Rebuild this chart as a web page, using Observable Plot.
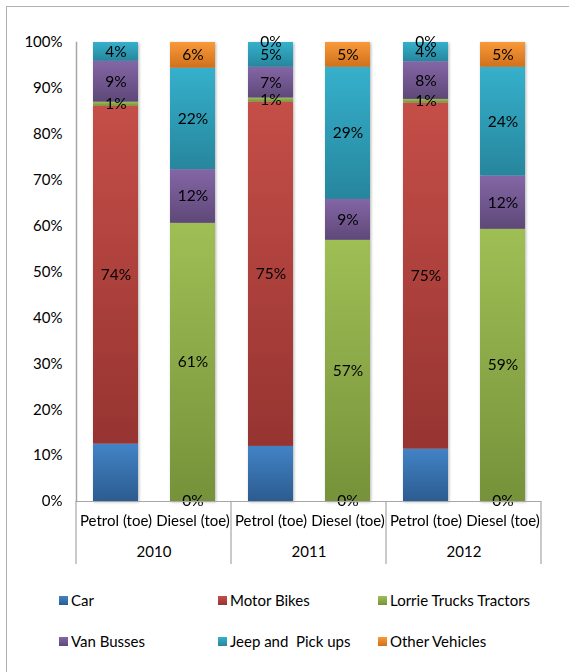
<!DOCTYPE html>
<html><head><meta charset="utf-8">
<script src="https://cdn.jsdelivr.net/npm/d3@7"></script>
<script src="https://cdn.jsdelivr.net/npm/@observablehq/plot@0.6"></script>
<style>
html,body{margin:0;padding:0;background:#fff;overflow:hidden;width:569px;height:672px;}
body{position:relative;font-family:Lato,"Open Sans",sans-serif;}
#frame{position:absolute;left:6px;top:6px;width:640px;height:720px;border:1.5px solid #b0b0b0;box-sizing:border-box;}
#chart{position:absolute;left:0;top:0;}
#legend{position:absolute;left:59px;top:590px;display:grid;grid-template-columns:159px 160px 180px;grid-auto-rows:41px;font-size:15px;color:#000;}
.item{display:flex;align-items:center;white-space:pre;height:20px;}
.sw{width:9px;height:9px;margin-right:3px;flex:none;}
</style></head><body>
<div id="frame"></div>
<svg width="0" height="0" style="position:absolute"><defs id="defs"></defs></svg>
<div id="chart"></div>
<div id="legend"></div>
<script>
const years = ["2010", "2011", "2012"];
const fuels = ["Petrol (toe)", "Diesel (toe)"];
const series = ["Car", "Motor Bikes", "Lorrie Trucks Tractors", "Van Busses", "Jeep and  Pick ups", "Other Vehicles"];
// bar order: 2010 Petrol, 2010 Diesel, 2011 Petrol, 2011 Diesel, 2012 Petrol, 2012 Diesel (share in %)
const car                  = [12.5, 0,    12.0, 0,    11.4, 0];
const motorBikes           = [73.6, null, 75.0, null, 75.4, null];
const lorrieTrucksTractors = [0.9,  60.6, 0.9,  56.9, 0.8,  59.3];
const vanBusses            = [8.9,  11.7, 6.7,  8.9,  8.2,  11.6];
const jeepAndPickups       = [4.1,  22.1, 5.4,  28.8, 4.2,  23.7];
const otherVehicles        = [null, 5.6,  0,    5.4,  0,    5.4];
const carLabelShown        = [false, true, false, true, false, true];
const yTicks = [0, 10, 20, 30, 40, 50, 60, 70, 80, 90, 100];

const seriesValues = [car, motorBikes, lorrieTrucksTractors, vanBusses, jeepAndPickups, otherVehicles];
const palette = [
  ["#4283c6", "#2c5c90"],
  ["#c54e48", "#963431"],
  ["#9fbf55", "#76923a"],
  ["#8466a6", "#5e4878"],
  ["#36b0cc", "#26869d"],
  ["#f89a3a", "#d0701b"]
];

// gradients
const defs = d3.select("#defs");
palette.forEach((c, i) => {
  const g = defs.append("linearGradient").attr("id", "g" + i).attr("x1", 0).attr("y1", 0).attr("x2", 0).attr("y2", 1);
  g.append("stop").attr("offset", "0%").attr("stop-color", c[0]);
  g.append("stop").attr("offset", "100%").attr("stop-color", c[1]);
});

const rows = [];
series.forEach((s, k) => {
  seriesValues[k].forEach((v, i) => {
    if (v == null) return;
    const show = k !== 0 || carLabelShown[i];
    rows.push({series: s, year: years[Math.floor(i / 2)], fuel: fuels[i % 2], value: v, label: show ? Math.round(v) + "%" : ""});
  });
});

const plot = Plot.plot({
  width: 569, height: 575,
  marginLeft: 76, marginRight: 28, marginTop: 42, marginBottom: 74,
  style: {fontFamily: "Lato, 'Open Sans', sans-serif", fontSize: "15px", color: "#000", background: "transparent"},
  fx: {domain: years, padding: 0, label: null},
  x: {domain: fuels, paddingInner: 0.42, paddingOuter: 0.21, label: null},
  y: {domain: [0, 100], label: null},
  color: {domain: series, range: series.map((_, i) => `url(#g${i})`)},
  marks: [
    Plot.barY(rows, Plot.stackY({fx: "year", x: "fuel", y: "value", z: "series", fill: "series", order: series})),
    Plot.text(rows, Plot.stackY({fx: "year", x: "fuel", y: "value", z: "series", order: series, text: "label", fill: "#000", fontSize: 15.5})),
    Plot.ruleY([0], {stroke: "#a6a6a6", strokeWidth: 1.2}),
    Plot.frame({anchor: "left", stroke: "#a6a6a6", strokeWidth: 1.5, facetAnchor: "left"}),
    Plot.axisY({ticks: yTicks, tickFormat: d => d + "%", tickSize: 0, tickPadding: 14, label: null, fontSize: 15}),
    Plot.axisX({tickSize: 0, tickPadding: 14, label: null, fontSize: 15}),
    Plot.axisFx({anchor: "bottom", tickSize: 0, tickPadding: 45, label: null, fontSize: 15})
  ]
});

// category separators below the axis, placed with the fx scale
const fx = plot.scale("fx"), ys = plot.scale("y");
const edges = years.map(yr => fx.apply(yr)).concat([fx.apply(years[years.length - 1]) + fx.bandwidth]);
const y0 = ys.apply(0);
d3.select(plot).append("g").attr("stroke", "#a6a6a6").attr("stroke-width", 1.2)
  .selectAll("line").data(edges).join("line")
  .attr("x1", d => d).attr("x2", d => d).attr("y1", y0).attr("y2", y0 + 63);
d3.select(plot).selectAll('g[aria-label="bar"]').style("filter", "drop-shadow(1.5px 1px 1.5px rgba(0,0,0,0.3))");

document.getElementById("chart").appendChild(plot);

// legend
const legend = d3.select("#legend");
[0, 1, 2, 3, 4, 5].forEach(i => {
  const it = legend.append("div").attr("class", "item");
  it.append("div").attr("class", "sw").style("background", `linear-gradient(${palette[i][0]}, ${palette[i][1]})`);
  it.append("span").text(series[i]);
});
</script>
</body></html>
